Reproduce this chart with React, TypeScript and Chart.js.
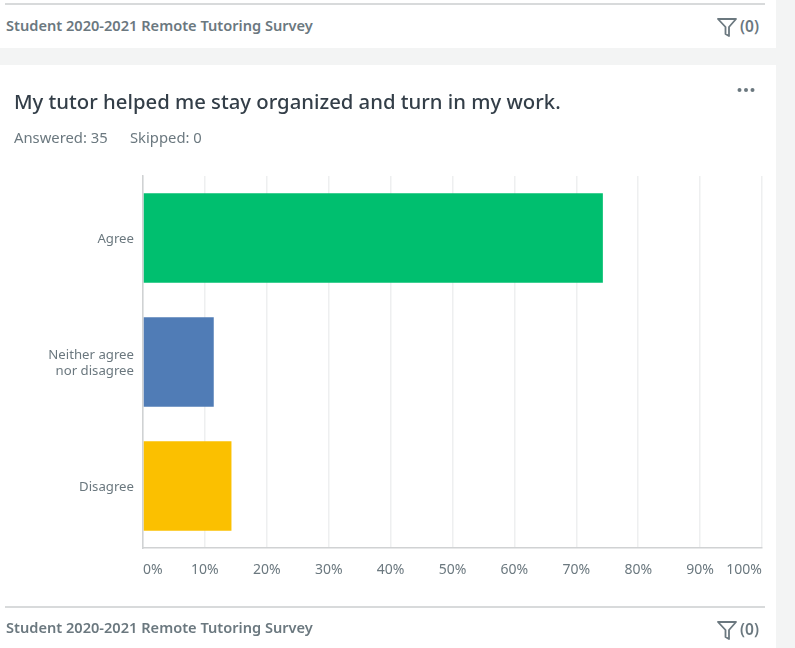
import React, { useEffect, useRef } from "react";
import { Chart, registerables } from "chart.js";

Chart.register(...registerables);

const categories: (string | string[])[] = ["Agree", ["Neither agree", "nor disagree"], "Disagree"];
const percentages = [74.29, 11.43, 14.29];
const barColors = ["#00bf6f", "#507cb6", "#fbc000"];
const headerText = "Student 2020-2021 Remote Tutoring Survey";
const questionTitle = "My tutor helped me stay organized and turn in my work.";
const answeredText = "Answered: 35";
const skippedText = "Skipped: 0";
const filterText = "(0)";

const FONT = '"Noto Sans", sans-serif';

const box = (s: React.CSSProperties): React.CSSProperties => ({ position: "absolute", ...s });

function Filter({ top }: { top: number }) {
  return (
    <>
      <svg style={box({ left: 717, top, width: 20, height: 19 })} viewBox="0 0 20 19">
        <path d="M1 1 H19 L12 9 V18 L8.5 16 V9 Z" fill="none" stroke="#6b787f" strokeWidth="1.8" strokeLinejoin="round" />
      </svg>
      <div style={box({ left: 740, top: top - 2, font: `600 15.5px ${FONT}`, color: "#6b787f", lineHeight: "20px" })}>{filterText}</div>
    </>
  );
}

function SurveyLabel({ top }: { top: number }) {
  return (
    <div style={box({ left: 6, top, font: `600 14.6px ${FONT}`, color: "#6b787f", lineHeight: "20px", whiteSpace: "nowrap" })}>
      {headerText}
    </div>
  );
}

export default function App() {
  const ref = useRef<HTMLCanvasElement>(null);
  useEffect(() => {
    const chart = new Chart(ref.current!, {
      type: "bar",
      data: {
        labels: categories as any,
        datasets: [
          {
            data: percentages,
            backgroundColor: barColors,
            barPercentage: 0.72,
            categoryPercentage: 1,
          },
        ],
      },
      options: {
        indexAxis: "y",
        animation: false,
        responsive: false,
        layout: { padding: { left: 0, top: 176, right: 33, bottom: 74 } },
        plugins: { legend: { display: false }, tooltip: { enabled: false } },
        scales: {
          x: {
            min: 0,
            max: 100,
            grid: { color: "#eeeff0", lineWidth: 1.5, drawTicks: false },
            border: { color: "#d0d2d3", width: 1.5 },
            afterFit: (s: any) => { s.height = 26; },
            ticks: {
              stepSize: 10,
              padding: 14,
              align: "inner",
              maxRotation: 0,
              autoSkip: false,
              color: "#6b787f",
              font: { family: FONT, size: 14 },
              callback: (v: any) => `${v}%`,
            },
          },
          y: {
            grid: { display: false, drawTicks: false },
            border: { color: "#d0d2d3", width: 1.5 },
            afterFit: (s: any) => { s.width = 143; },
            ticks: {
              padding: 9,
              labelOffset: 1,
              color: "#6b787f",
              font: { family: FONT, size: 13.2 },
            },
          },
        },
      },
    });
    return () => chart.destroy();
  }, []);

  return (
    <div style={box({ position: "fixed", left: 0, top: 0, width: 795, height: 648, background: "#f3f4f4", overflow: "hidden" })}>
      <div style={box({ left: 0, top: 0, width: 776, height: 48, background: "#fff" })} />
      <div style={box({ left: 5, top: 3, width: 760, height: 1.5, background: "#d8dadb" })} />
      <SurveyLabel top={15} />
      <Filter top={18} />
      <div style={box({ left: 0, top: 65, width: 776, height: 583, background: "#fff" })} />
      <canvas ref={ref} width={795} height={648} style={box({ left: 0, top: 0, width: 795, height: 648 })} />
      <div style={box({ left: 14, top: 87, font: `500 20.3px ${FONT}`, color: "#333e48", lineHeight: "28px", whiteSpace: "nowrap" })}>
        {questionTitle}
      </div>
      <div style={box({ left: 14, top: 127, font: `400 14.8px ${FONT}`, color: "#6b787f", lineHeight: "20px", whiteSpace: "nowrap" })}>
        {answeredText}
      </div>
      <div style={box({ left: 130, top: 127, font: `400 14.8px ${FONT}`, color: "#6b787f", lineHeight: "20px", whiteSpace: "nowrap" })}>
        {skippedText}
      </div>
      <svg style={box({ left: 736, top: 86, width: 21, height: 8 })} viewBox="0 0 21 8">
        <circle cx="3.5" cy="4" r="2" fill="#6b787f" />
        <circle cx="10" cy="4" r="2" fill="#6b787f" />
        <circle cx="16.5" cy="4" r="2" fill="#6b787f" />
      </svg>
      <div style={box({ left: 5, top: 606, width: 760, height: 1.5, background: "#d8dadb" })} />
      <SurveyLabel top={617} />
      <Filter top={621} />
    </div>
  );
}
